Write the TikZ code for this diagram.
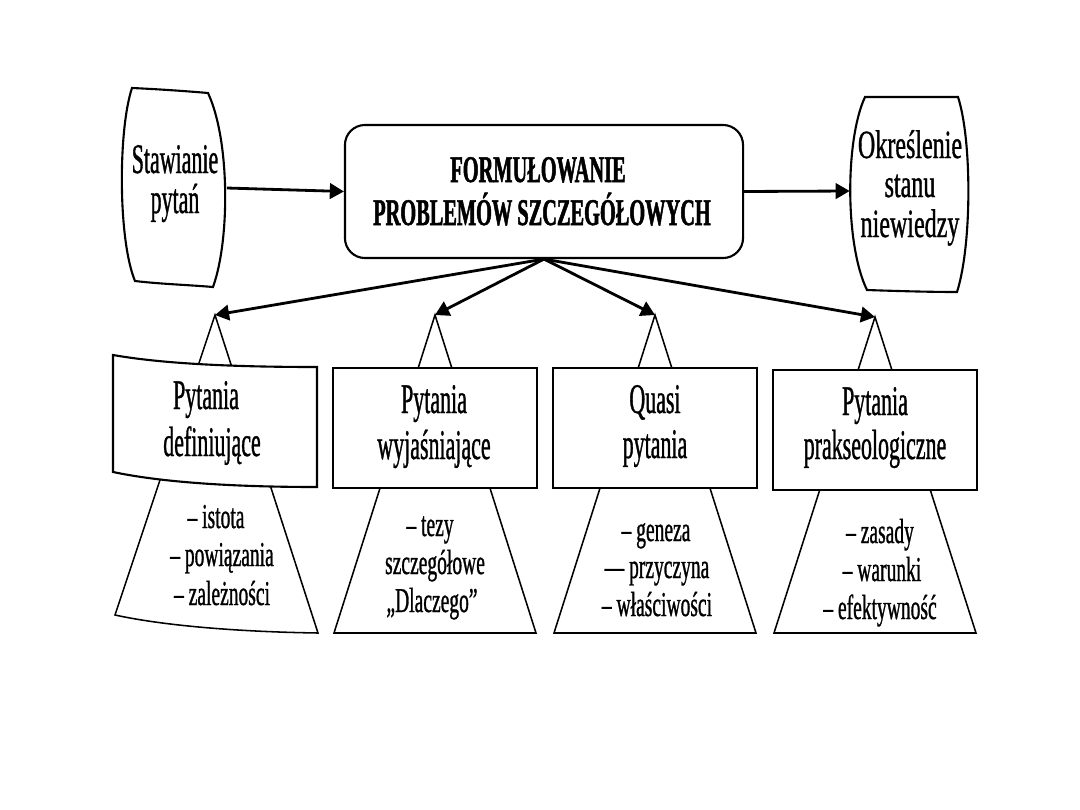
\documentclass[tikz,border=0pt]{standalone}
\usepackage{fontspec}
\setmainfont{Liberation Serif}
\newfontfamily\fCent[FakeStretch=0.54,FakeBold=1.3]{Liberation Serif Bold}
\newfontfamily\fLeft[FakeStretch=0.52,FakeBold=0.8]{Liberation Serif}
\newfontfamily\fRight[FakeStretch=0.6,FakeBold=0.8]{Liberation Serif}
\newfontfamily\fLab[FakeStretch=0.52,FakeBold=0.8]{Liberation Serif}
\newfontfamily\fBul[FakeStretch=0.56,FakeBold=0.8]{Liberation Serif}
\usetikzlibrary{arrows.meta}
\tikzset{
  arr/.style={line width=2pt,-{Triangle[length=10pt,width=11pt]}},
  frame/.style={line width=1.5pt},
  tri/.style={line width=1.1pt,fill=white},
  labbox/.style={draw,line width=1.5pt,fill=white,minimum width=5.1cm,minimum height=3cm},
  ln/.style={anchor=base,inner sep=0pt},
  centtxt/.style={ln,font=\fCent\fontsize{26.8}{30}\selectfont},
  lefttxt/.style={ln,font=\fLeft\fontsize{30}{30}\selectfont},
  righttxt/.style={ln,font=\fRight\fontsize{28.5}{30}\selectfont},
  labtxt/.style={ln,font=\fLab\fontsize{30}{30}\selectfont},
  bultxt/.style={ln,font=\fBul\fontsize{24.8}{26}\selectfont},
}
\begin{document}
\begin{tikzpicture}[x=0.025cm,y=-0.025cm]
\useasboundingbox[fill=white] (0,0) rectangle (1080,810);

% central box
\node (C) [draw,line width=1.5pt,rounded corners=0.5cm,minimum width=9.95cm,minimum height=3.325cm] at (544,191.5) {};
\node (c1) [centtxt] at (538,182) {FORMUŁOWANIE};
\node (c2) [centtxt] at (542,225) {PROBLEMÓW SZCZEGÓŁOWYCH};

% left barrel box
\node (L) [minimum width=2.575cm,minimum height=4.8cm,inner sep=0pt] at (175,188) {};
\draw[frame] (132,88) .. controls (118,130) and (118,240) .. (135,281)
  .. controls (160,284) and (190,285) .. (213,287)
  .. controls (230,240) and (230,140) .. (208,93)
  .. controls (185,91) and (155,89) .. cycle;
\node (l1) [lefttxt] at (175,173) {Stawianie};
\node (l2) [lefttxt] at (175,213) {pytań};

% right barrel box
\node (R) [minimum width=2.95cm,minimum height=4.9cm,inner sep=0pt] at (909,191) {};
\draw[frame] (865,97) .. controls (845,140) and (845,245) .. (867,290)
  .. controls (895,291) and (930,292) .. (957,292)
  .. controls (972,245) and (972,140) .. (958,97)
  .. controls (930,97) and (895,97) .. cycle;
\node (r1) [righttxt] at (910,158) {Określenie};
\node (r2) [righttxt] at (910,197) {stanu};
\node (r3) [righttxt] at (910,237) {niewiedzy};

% apex coordinates
\coordinate (A1) at (215,315);
\coordinate (A2) at (435,315);
\coordinate (A3) at (655,315);
\coordinate (A4) at (875,317);

% triangles / trapezoids
\draw[tri] (A1) -- (115,615) .. controls (170,627) and (250,632) .. (318,633) -- cycle;
\draw[tri] (A2) -- (334,633) -- (536,633) -- cycle;
\draw[tri] (A3) -- (554,633) -- (756,633) -- cycle;
\draw[tri] (A4) -- (774,633) -- (976,633) -- cycle;

% box 1 (distorted)
\draw[frame,fill=white] (113,355) .. controls (170,365) and (250,367) .. (317,367)
  -- (317,487) .. controls (250,487) and (170,484) .. (113,472) -- cycle;
\node (b1a) [labtxt] at (206,409) {Pytania};
\node (b1b) [labtxt] at (212,456) {definiujące};

\node (B2) [labbox] at (435,428) {};
\node (b2a) [labtxt] at (434,413) {Pytania};
\node (b2b) [labtxt] at (434,459) {wyjaśniające};
\node (B3) [labbox] at (655,428) {};
\node (b3a) [labtxt] at (655,413) {Quasi};
\node (b3b) [labtxt] at (655,458) {pytania};
\node (B4) [labbox] at (875,430) {};
\node (b4a) [labtxt] at (875,415) {Pytania};
\node (b4b) [labtxt] at (875,459) {prakseologiczne};

% bullet texts
\node (t1a) [bultxt] at (216,528) {– istota};
\node (t1b) [bultxt] at (222,566) {– powiązania};
\node (t1c) [bultxt] at (222,605) {– zależności};
\node (t2a) [bultxt] at (430,536) {– tezy};
\node (t2b) [bultxt] at (435,574) {szczegółowe};
\node (t2c) [bultxt] at (432,612) {„Dlaczego”};
\node (t3a) [bultxt] at (656,541) {– geneza};
\node (t3b) [bultxt] at (657,578) {— przyczyna};
\node (t3c) [bultxt] at (657,616) {– właściwości};
\node (t4a) [bultxt] at (880,543) {– zasady};
\node (t4b) [bultxt] at (882,581) {– warunki};
\node (t4c) [bultxt] at (880,619) {– efektywność};

% connectors
\draw[arr] (L.east) -- (C.west);
\draw[arr] (C.east) -- (R.west);
\draw[arr] (C.south) -- (A1);
\draw[arr] (C.south) -- (A2);
\draw[arr] (C.south) -- (A3);
\draw[arr] (C.south) -- (A4);
\end{tikzpicture}
\end{document}
